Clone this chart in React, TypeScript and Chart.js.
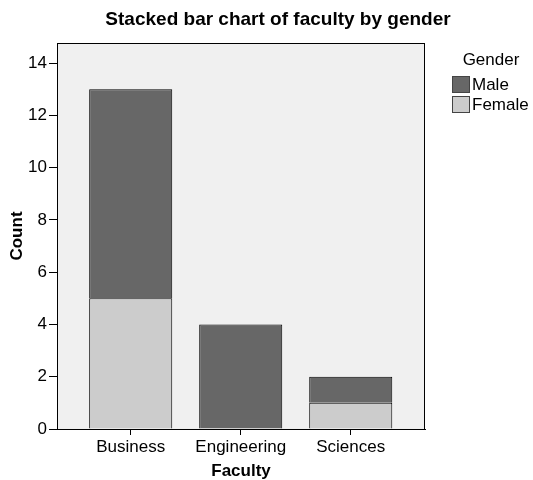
import React, { useEffect, useRef } from 'react';
import { Chart, registerables } from 'chart.js';

Chart.register(...registerables);

const chartTitle = 'Stacked bar chart of faculty by gender';
const categories = ['Business', 'Engineering', 'Sciences'];
const maleCounts = [8, 4, 1];
const femaleCounts = [5, 0, 1];
const legendTitle = 'Gender';
const xAxisTitle = 'Faculty';
const yAxisTitle = 'Count';

const FONT = "'Liberation Sans', Arial, sans-serif";
const MALE_COLOR = '#676767';
const FEMALE_COLOR = '#cccccc';

export default function App() {
  const ref = useRef<HTMLCanvasElement>(null);

  useEffect(() => {
    if (!ref.current) return;

    const decor = {
      id: 'decor',
      beforeDraw(chart: any) {
        const { ctx, chartArea: a } = chart;
        ctx.save();
        ctx.fillStyle = '#f0f0f0';
        ctx.fillRect(a.left, a.top, a.right - a.left, a.bottom - a.top);
        ctx.restore();
      },
      afterDraw(chart: any) {
        const { ctx, chartArea: a } = chart;
        ctx.save();
        ctx.strokeStyle = '#000';
        ctx.lineWidth = 1;
        const l = Math.round(a.left) + 0.5;
        const t = Math.round(a.top) + 0.5;
        const r = Math.round(a.right) - 0.5;
        const b = Math.round(a.bottom) + 0.5;
        ctx.strokeRect(l, t, r - l, b - t);

        ctx.fillStyle = '#000';
        ctx.font = `bold 19px ${FONT}`;
        ctx.textAlign = 'center';
        ctx.textBaseline = 'middle';
        ctx.fillText(chartTitle, 278, 20);

        ctx.font = `17px ${FONT}`;
        ctx.fillText(legendTitle, 491, 60);
        const ds = chart.data.datasets.slice().reverse();
        ds.forEach((d: any, i: number) => {
          const y = 76 + i * 20;
          ctx.fillStyle = d.backgroundColor;
          ctx.fillRect(452, y, 18, 17);
          ctx.strokeStyle = '#444';
          ctx.strokeRect(452.5, y + 0.5, 17, 16);
          ctx.fillStyle = '#000';
          ctx.textAlign = 'left';
          ctx.textBaseline = 'middle';
          ctx.fillText(d.label, 472, y + 9);
        });
        ctx.restore();
      },
    };

    const toPoints = (arr: number[]) => arr.map((v, i) => ({ x: i, y: v }));

    const chart = new Chart(ref.current, {
      type: 'bar',
      data: {
        datasets: [
          {
            label: 'Female',
            data: toPoints(femaleCounts),
            backgroundColor: FEMALE_COLOR,
            borderColor: '#000',
            borderWidth: 1,
          },
          {
            label: 'Male',
            data: toPoints(maleCounts),
            backgroundColor: MALE_COLOR,
            borderColor: '#000',
            borderWidth: 1,
          },
        ],
      },
      options: {
        animation: false,
        responsive: true,
        maintainAspectRatio: false,
        events: [],
        layout: { padding: { top: 43, right: 108, bottom: 0, left: 0 } },
        datasets: {
          bar: { categoryPercentage: 1, barPercentage: 0.755 },
        },
        plugins: {
          legend: { display: false },
          title: { display: false },
          tooltip: { enabled: false },
        },
        scales: {
          x: {
            type: 'linear',
            stacked: true,
            offset: false,
            min: -0.67,
            max: 2.675,
            afterBuildTicks: (scale: any) => {
              scale.ticks = categories.map((_, i) => ({ value: i }));
            },
            afterFit: (scale: any) => {
              scale.height = 51;
            },
            ticks: {
              autoSkip: false,
              maxRotation: 0,
              padding: 2,
              color: '#000',
              font: { family: FONT, size: 17 },
              callback: (v: any) => categories[v] ?? '',
            },
            grid: {
              display: true,
              offset: false,
              drawOnChartArea: false,
              drawTicks: true,
              tickLength: 6,
              color: '#000',
            },
            border: { display: true, color: '#000', width: 1 },
            title: {
              display: true,
              text: xAxisTitle,
              color: '#000',
              font: { family: FONT, size: 17, weight: 'bold', lineHeight: 1 },
              padding: { top: 0, bottom: 0 },
            },
          },
          y: {
            stacked: true,
            min: 0,
            max: 14.77,
            afterBuildTicks: (scale: any) => {
              scale.ticks = scale.ticks.filter((t: any) => t.value % 2 === 0);
            },
            afterFit: (scale: any) => {
              scale.width = 57;
            },
            ticks: {
              stepSize: 2,
              padding: 2,
              color: '#000',
              font: { family: FONT, size: 17 },
            },
            grid: {
              display: true,
              drawOnChartArea: false,
              drawTicks: true,
              tickLength: 8,
              color: '#000',
            },
            border: { display: true, color: '#000', width: 1 },
            title: {
              display: true,
              text: yAxisTitle,
              color: '#000',
              font: { family: FONT, size: 17, weight: 'bold' },
              padding: { top: 7, bottom: 0 },
            },
          },
        },
      },
      plugins: [decor],
    } as any);

    return () => chart.destroy();
  }, []);

  return (
    <div style={{ position: 'absolute', left: 0, top: 0, width: 533, height: 480, background: '#fff' }}>
      <canvas ref={ref} />
    </div>
  );
}
